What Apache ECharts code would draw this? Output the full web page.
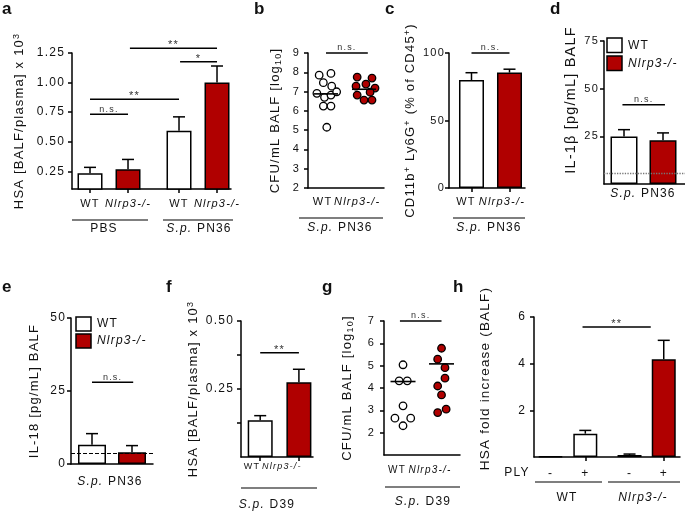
<!DOCTYPE html>
<html><head><meta charset="utf-8">
<script src="https://cdn.jsdelivr.net/npm/echarts@6/dist/echarts.min.js"></script>
<style>html,body{margin:0;padding:0;background:#fff}#c{width:685px;height:514px}</style>
</head><body><div id="c"></div>
<script>
// ================= DATA =================
const strainLabels = ['WT', 'Nlrp3-/-'];
const legendLabels = ['WT', 'Nlrp3-/-'];
// a: HSA BALF/plasma x10^3
const aLabels = ['WT', 'Nlrp3-/-', 'WT', 'Nlrp3-/-'];
const aMean = [0.233, 0.267, 0.592, 1.00];
const aErr = [0.050, 0.083, 0.118, 0.14];
const aGroups = ['PBS', 'S.p. PN36'];
const aYTicks = [0.25, 0.50, 0.75, 1.00, 1.25];
const aSig = [{a: 0, b: 1, y: 0.733, t: 'n.s.'}, {a: 0, b: 2.342, y: 0.858, t: '**'},
              {a: 1.05, b: 3.342, y: 1.29, t: '**'}, {a: 2.37, b: 3.342, y: 1.175, t: '*'}];
// b: CFU/mL BALF log10 (PN36)
const bWT = [7.85, 7.94, 7.46, 7.28, 6.91, 6.70, 6.82, 6.99, 6.25, 6.25, 5.15];
const bKO = [7.75, 7.70, 7.39, 7.28, 7.18, 6.97, 6.82, 6.56, 6.56];
const bLine = [6.88, 7.12];
const bYTicks = [2, 3, 4, 5, 6, 7, 8, 9];
// c: CD11b+ Ly6G+ (% of CD45+)
const cMean = [80, 85.5];
const cErr = [5.4, 2.5];
const cYTicks = [0, 50, 100];
// d: IL-1beta pg/mL
const dMean = [24.9, 23.0];
const dErr = [3.6, 3.8];
const dDetect = 5.7;
const dYTicks = [25, 50, 75];
// e: IL-18 pg/mL
const eMean = [6.6, 4.0];
const eErr = [3.8, 2.3];
const eDetect = 3.8;
const eYTicks = [0, 25, 50];
// f: HSA BALF/plasma x10^3 (D39)
const fMean = [0.135, 0.2745];
const fErr = [0.017, 0.048];
const fYTicks = [0.125, 0.25, 0.375, 0.5];
const fYLabels = [0.25, 0.5];
// g: CFU/mL BALF log10 (D39)
const gWT = [5.04, 4.32, 4.32, 3.20, 2.65, 2.65, 2.31];
const gKO = [5.78, 5.29, 4.91, 4.44, 4.09, 3.69, 2.90, 3.05];
const gLine = [4.29, 5.08];
const gYTicks = [2, 3, 4, 5, 6, 7];
// h: HSA fold increase
const hLabels = ['-', '+', '-', '+'];
const hMean = [0.02, 1.00, 0.086, 4.19];
const hErr = [0, 0.14, 0.04, 0.81];
const hYTicks = [2, 4, 6];
const hGroups = ['WT', 'Nlrp3-/-'];

// ================= LAYOUT (positions in axis units) =================
const aPos = [0, 1, 2.342, 3.342];
const twoPos = [0, 1];
const hPos = [0, 1, 2.27, 3.253];
const bJitWT = [-0.18, 0.13, -0.07, 0.15, -0.24, -0.04, 0.13, 0.28, -0.07, 0.13, 0.02];
const bJitKO = [-0.18, 0.21, 0.05, -0.21, 0.29, 0.16, -0.18, 0.0, 0.21];
const gJitWT = [0, -0.1, 0.11, 0, -0.21, 0.2, 0];
const gJitKO = [0, -0.1, 0.09, 0.09, -0.1, 0, -0.1, 0.12];

// ================= STYLE =================
const FONT = '"Liberation Sans", Arial, Helvetica, sans-serif';
const INK = '#111';
const RED = '#b00000';
const WHITE = '#ffffff';
const LETTER_SPACING = '1.2px';
// the reference text is letter-spaced: apply the same spacing to canvas drawing and measuring
(function () {
  const P = CanvasRenderingContext2D.prototype;
  if (!('letterSpacing' in P)) return;
  ['fillText', 'strokeText', 'measureText'].forEach(function (fn) {
    const orig = P[fn];
    P[fn] = function () { try { this.letterSpacing = LETTER_SPACING; } catch (e) {} return orig.apply(this, arguments); };
  });
})();
function fs(size, style, weight) { return (style || 'normal') + ' ' + (weight || 'normal') + ' ' + size + 'px ' + FONT; }

const option = {
  animation: false, backgroundColor: '#fff',
  textStyle: {fontFamily: FONT, color: INK},
  grid: [], xAxis: [], yAxis: [], series: [], graphic: []
};

function nearest(arr, v) { let k = 0, d = Infinity; arr.forEach((a, j) => { if (Math.abs(a - v) < d) { d = Math.abs(a - v); k = j; } }); return k; }

function addPanel(p) {
  const i = option.grid.length;
  option.grid.push({left: p.left, top: p.top, width: p.width, height: p.height});
  const xl = p.xLabels;
  const xs = p.xFont || 11;
  option.xAxis.push({
    type: 'value', gridIndex: i, min: p.xMin, max: p.xMax,
    splitLine: {show: false},
    axisLine: {show: true, onZero: false, lineStyle: {color: '#000', width: 1.5}},
    axisTick: {show: !!p.xTicks, customValues: p.xTicks || [], length: 4, lineStyle: {color: '#000', width: 1.5}},
    axisLabel: {
      show: !!xl, customValues: p.xLabelPos || [], margin: p.xMargin == null ? 9 : p.xMargin,
      showMinLabel: true, showMaxLabel: true, hideOverlap: false,
      formatter: function (v) { if (!xl) return ''; const t = xl[nearest(p.xLabelPos, v)]; return t.indexOf('Nlrp3') >= 0 ? '{i|' + t + '}' : '{n|' + t + '}'; },
      rich: {
        n: {fontSize: xs, fontFamily: FONT, color: INK},
        i: {fontSize: xs, fontFamily: FONT, fontStyle: 'italic', color: INK}
      }
    }
  });
  const ts = p.titleFont || 13;
  option.yAxis.push({
    type: 'value', gridIndex: i, min: p.yMin, max: p.yMax,
    splitLine: {show: false},
    axisLine: {show: true, onZero: false, lineStyle: {color: '#000', width: 1.5}},
    axisTick: {show: true, customValues: p.yTicks, length: 4, lineStyle: {color: '#000', width: 1.5}},
    axisLabel: {customValues: p.yLabels || p.yTicks, margin: p.yMargin == null ? 7 : p.yMargin,
      showMinLabel: true, showMaxLabel: true, hideOverlap: false,
      formatter: p.yFmt || (v => String(v)), fontSize: p.yFont || 11, fontFamily: FONT, color: INK},
    name: p.title, nameLocation: 'middle', nameGap: p.nameGap, nameRotate: 90,
    nameTextStyle: {fontSize: ts, fontFamily: FONT, color: INK, lineHeight: ts + 4, padding: p.titlePad || 0,
      rich: {
        sup: {fontSize: ts - 4, fontFamily: FONT, color: INK, verticalAlign: 'top', lineHeight: ts + 4},
        sub: {fontSize: ts - 4, fontFamily: FONT, color: INK, verticalAlign: 'bottom', lineHeight: ts + 4}
      }}
  });
  return i;
}

function addBars(i, pos, mean, colors, bw, extra) {
  const s = {type: 'bar', xAxisIndex: i, yAxisIndex: i, barWidth: bw, z: 2,
    data: pos.map((x, k) => ({value: [x, mean[k]], itemStyle: {color: colors[k], borderColor: '#000', borderWidth: 1.5}}))};
  if (extra) Object.assign(s, extra);
  option.series.push(s);
}

function addErr(i, pos, mean, err) {
  option.series.push({type: 'custom', xAxisIndex: i, yAxisIndex: i, z: 3, silent: true, clip: false,
    data: pos.map((x, k) => [x, mean[k], err[k]]),
    encode: {x: 0, y: 1},
    renderItem: function (params, api) {
      const x = api.value(0), m = api.value(1), e = api.value(2);
      if (!(e > 0)) return {type: 'group', children: []};
      const a = api.coord([x, m]), b = api.coord([x, m + e]);
      return {type: 'group', children: [
        {type: 'line', shape: {x1: a[0], y1: a[1], x2: b[0], y2: b[1]}, style: {stroke: '#000', lineWidth: 1.5}},
        {type: 'line', shape: {x1: b[0] - 6, y1: b[1], x2: b[0] + 6, y2: b[1]}, style: {stroke: '#000', lineWidth: 1.5}}
      ]};
    }});
}

function addDots(i, base, jit, vals, color) {
  option.series.push({type: 'scatter', xAxisIndex: i, yAxisIndex: i, symbol: 'circle', symbolSize: 7.5, z: 4,
    itemStyle: {color: color, borderColor: '#000', borderWidth: 1.3, opacity: 1},
    data: vals.map((v, k) => [base + jit[k], v])});
}

function addLines(i, pos, vals, half) {
  option.series.push({type: 'custom', xAxisIndex: i, yAxisIndex: i, z: 5, silent: true, clip: false,
    data: pos.map((x, k) => [x, vals[k]]), encode: {x: 0, y: 1},
    renderItem: function (params, api) {
      const c = api.coord([api.value(0), api.value(1)]);
      return {type: 'line', shape: {x1: c[0] - half, y1: c[1], x2: c[0] + half, y2: c[1]}, style: {stroke: '#000', lineWidth: 1.6}};
    }});
}

function addSig(i, items) {
  option.series.push({type: 'custom', xAxisIndex: i, yAxisIndex: i, z: 5, silent: true, clip: false,
    data: items.map(s => [s.a, s.b, s.y]), encode: {x: [0, 1], y: 2},
    renderItem: function (params, api) {
      const s = items[params.dataIndex];
      const p1 = api.coord([api.value(0), api.value(2)]), p2 = api.coord([api.value(1), api.value(2)]);
      const star = s.t.indexOf('*') >= 0;
      return {type: 'group', children: [
        {type: 'line', shape: {x1: p1[0], y1: p1[1], x2: p2[0], y2: p2[1]}, style: {stroke: '#000', lineWidth: 1.5}},
        {type: 'text', x: (p1[0] + p2[0]) / 2, y: p1[1] + (star ? 3 : 0),
          style: {text: s.t, font: fs(star ? 11 : 9), fill: '#333', align: 'center', verticalAlign: 'bottom', textAlign: 'center', textVerticalAlign: 'bottom'}}
      ]};
    }});
}

function drawLine(x1, y1, x2, y2, w) {
  option.graphic.push({type: 'line', silent: true, shape: {x1, y1, x2, y2}, style: {stroke: '#000', lineWidth: w || 1.2}});
}
function drawText(x, y, text, o) {
  o = o || {};
  const st = {text: text, font: o.font || fs(12), fill: INK,
    align: o.align || 'center', verticalAlign: o.va || 'middle', textAlign: o.align || 'center', textVerticalAlign: o.va || 'middle'};
  if (o.rich) st.rich = o.rich;
  option.graphic.push({type: 'text', silent: true, x: x, y: y, style: st});
}
const richIt = {i: {font: fs(12, 'italic'), fill: INK}, n: {font: fs(12), fill: INK}};
function spLabel(t) { // "S.p. XXX" with italic species
  const parts = t.split(' ');
  return '{i|' + parts[0] + '} {n|' + parts.slice(1).join(' ') + '}';
}
function strainText(t) { return t.indexOf('Nlrp3') >= 0 ? '{i|' + t + '}' : '{n|' + t + '}'; }

// ================= PANELS =================
// a
let i = addPanel({left: 72, top: 53, width: 159, height: 136, xMin: -0.474, xMax: 3.71, yMin: 0.1, yMax: 1.25,
  yTicks: aYTicks, yFmt: v => v.toFixed(2), yFont: 12, xTicks: aPos, xLabels: aLabels, xLabelPos: aPos, xMargin: 9,
  title: 'HSA [BALF/plasma] x 10{sup|3}', nameGap: 44});
addBars(i, aPos, aMean, [WHITE, RED, WHITE, RED], 25);
addErr(i, aPos, aMean, aErr);
addSig(i, aSig);

// b
i = addPanel({left: 308, top: 53, width: 76, height: 135, xMin: -0.474, xMax: 1.526, yMin: 2, yMax: 9,
  yTicks: bYTicks, xLabels: strainLabels, xLabelPos: [-0.09, 0.82], xMargin: 8, yMargin: 8,
  title: 'CFU/mL BALF [log{sub|10}]', nameGap: 24});
addDots(i, 0, bJitWT, bWT, WHITE);
addDots(i, 1, bJitKO, bKO, RED);
addLines(i, twoPos, bLine, 12);
addSig(i, [{a: 0, b: 1.1, y: 9, t: 'n.s.'}]);

// c
i = addPanel({left: 449, top: 53, width: 76, height: 135, xMin: -0.592, xMax: 1.408, yMin: 0, yMax: 100,
  yTicks: cYTicks, xTicks: twoPos, xLabels: strainLabels, xLabelPos: [-0.145, 0.8], xMargin: 8, yMargin: 4,
  title: 'CD11b{sup|+} Ly6G{sup|+} (% of CD45{sup|+})', nameGap: 27});
addBars(i, twoPos, cMean, [WHITE, RED], 25);
addErr(i, twoPos, cMean, cErr);
addSig(i, [{a: 0, b: 1, y: 100, t: 'n.s.'}]);

// d
i = addPanel({left: 604, top: 41, width: 81, height: 143, xMin: -0.513, xMax: 1.564, yMin: 0, yMax: 75,
  yTicks: dYTicks, yMargin: 5, title: 'IL-1\u03b2 [pg/mL] BALF', nameGap: 24, titleFont: 14.5, titlePad: [0, 0, 0, 25]});
addBars(i, twoPos, dMean, [WHITE, RED], 27, {markLine: {silent: true, symbol: ['none', 'none'], label: {show: false},
  lineStyle: {type: 'dotted', color: '#777', width: 1.3}, data: [{yAxis: dDetect}]}});
addErr(i, twoPos, dMean, dErr);
addSig(i, [{a: -0.04, b: 1.05, y: 41.5, t: 'n.s.'}]);

// e
i = addPanel({left: 71, top: 318, width: 82, height: 146, xMin: -0.525, xMax: 1.525, yMin: 0, yMax: 50,
  yTicks: eYTicks, yMargin: 5, title: 'IL-18 [pg/mL] BALF', nameGap: 28, yFont: 12});
addBars(i, twoPos, eMean, [WHITE, RED], 28, {markLine: {silent: true, symbol: ['none', 'none'], label: {show: false},
  lineStyle: {type: 'dashed', color: '#000', width: 1}, data: [{yAxis: eDetect}]}});
addErr(i, twoPos, eMean, eErr);
addSig(i, [{a: 0, b: 1.03, y: 28, t: 'n.s.'}]);

// f
i = addPanel({left: 241, top: 321, width: 72, height: 136, xMin: -0.496, xMax: 1.364, yMin: 0, yMax: 0.5,
  yTicks: fYTicks, yLabels: fYLabels, yFmt: v => v.toFixed(2), yFont: 12, xTicks: twoPos, xLabels: strainLabels,
  xLabelPos: [-0.21, 0.56], xMargin: 4, xFont: 9, title: 'HSA [BALF/plasma] x 10{sup|3}', nameGap: 37});
addBars(i, twoPos, fMean, [WHITE, RED], 25);
addErr(i, twoPos, fMean, fErr);
addSig(i, [{a: 0, b: 1, y: 0.383, t: '**'}]);

// g
i = addPanel({left: 384, top: 321, width: 76, height: 134, xMin: -0.494, xMax: 1.48, yMin: 1, yMax: 7,
  yTicks: gYTicks, xLabels: strainLabels, xLabelPos: [-0.156, 0.70], xMargin: 10, xFont: 10, yMargin: 9,
  title: 'CFU/mL BALF [log{sub|10}]', nameGap: 28});
addDots(i, 0, gJitWT, gWT, WHITE);
addDots(i, 1, gJitKO, gKO, RED);
addLines(i, twoPos, gLine, 12.5);
addSig(i, [{a: -0.08, b: 1.0, y: 7, t: 'n.s.'}]);

// h
i = addPanel({left: 534, top: 317, width: 146, height: 140, xMin: -0.474, xMax: 3.72, yMin: 0, yMax: 6,
  yTicks: hYTicks, yFont: 12, yMargin: 8, xTicks: [hPos[1], hPos[3]], xLabels: hLabels, xLabelPos: hPos, xMargin: 10, xFont: 12,
  title: 'HSA fold increase (BALF)', nameGap: 40, titleFont: 13.5, titlePad: [0, 0, 0, 17]});
addBars(i, hPos, hMean, [WHITE, WHITE, RED, RED], 24);
addErr(i, hPos, hMean, hErr);
addSig(i, [{a: 0.92, b: 2.88, y: 5.57, t: '**'}]);

// ================= ANNOTATIONS =================
const LET = fs(17, 'normal', 'bold');
[['a', 2, 9], ['b', 254, 9], ['c', 385, 9], ['d', 550, 9], ['e', 2, 287], ['f', 166, 287], ['g', 322, 287], ['h', 453, 287]]
  .forEach(l => drawText(l[1], l[2], l[0], {font: LET, align: 'left'}));

// a groups
drawLine(72, 220, 148, 220); drawLine(163, 220, 233, 220);
drawText(104, 229, aGroups[0]);
drawText(199, 229, spLabel(aGroups[1]), {rich: richIt});
// b, c, d groups
drawLine(299, 218, 383, 218); drawText(340, 228, spLabel('S.p. PN36'), {rich: richIt});
drawLine(453, 218, 525, 218); drawText(489, 228, spLabel('S.p. PN36'), {rich: richIt});
drawText(643, 194, spLabel('S.p. PN36'), {rich: richIt});
// e, f, g groups
drawText(110, 482, spLabel('S.p. PN36'), {rich: richIt});
drawLine(241, 488, 317, 488); drawText(267, 505, spLabel('S.p. D39'), {rich: richIt});
drawLine(385, 487, 460, 487); drawText(423, 502, spLabel('S.p. D39'), {rich: richIt});
// h groups
drawText(517, 473, 'PLY');
drawLine(535, 482, 602, 482); drawLine(608, 482, 680, 482);
drawText(567, 498, strainText(hGroups[0]), {rich: richIt});
drawText(643, 498, strainText(hGroups[1]), {rich: richIt});

// legends (d, e)
function legend(x, y1, y2, h) {
  option.graphic.push({type: 'rect', silent: true, shape: {x: x, y: y1, width: 15, height: h}, style: {fill: WHITE, stroke: '#000', lineWidth: 1.5}});
  option.graphic.push({type: 'rect', silent: true, shape: {x: x, y: y2, width: 15, height: h}, style: {fill: RED, stroke: '#000', lineWidth: 1.5}});
  drawText(x + 21, y1 + h / 2, strainText(legendLabels[0]), {rich: richIt, align: 'left'});
  drawText(x + 21, y2 + h / 2, strainText(legendLabels[1]), {rich: richIt, align: 'left'});
}
legend(607, 38, 56, 14.5);
legend(76, 317, 334, 14);

const chart = echarts.init(document.getElementById('c'), null, {renderer: 'canvas'});
chart.setOption(option);
</script>
</body></html>
